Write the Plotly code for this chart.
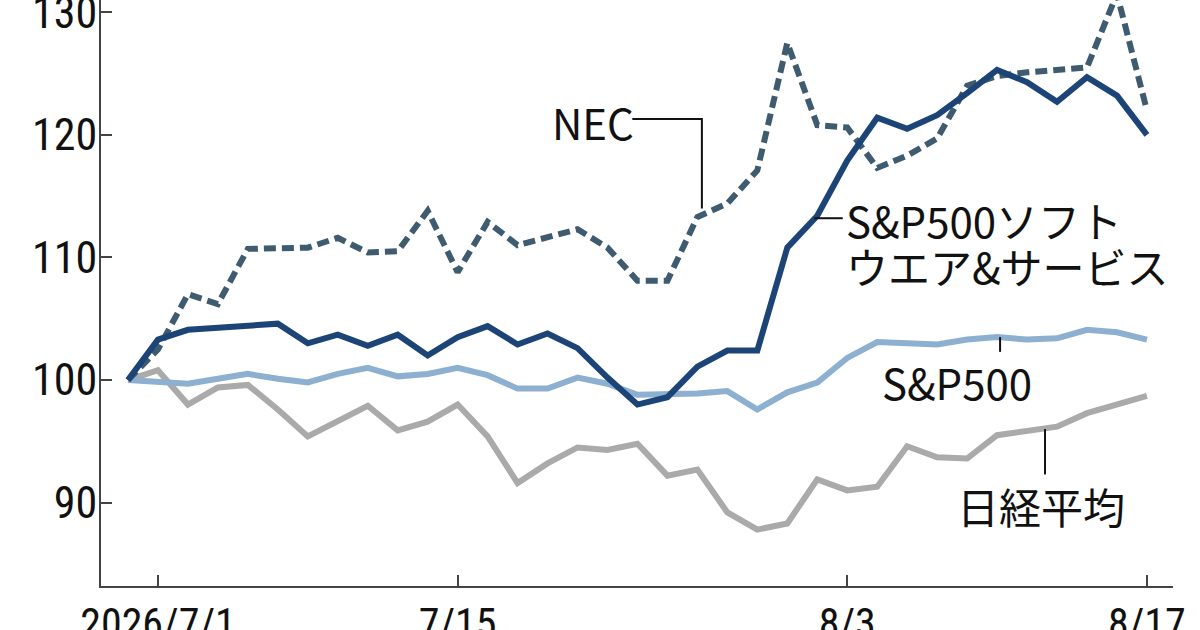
import plotly.graph_objects as go

# trading days (US/Japan union), 2026/6/30 - 8/17
dates = [
    "6/30", "7/1", "7/2", "7/3", "7/6", "7/7", "7/8", "7/9", "7/10", "7/13",
    "7/14", "7/15", "7/16", "7/17", "7/20", "7/21", "7/22", "7/23", "7/24",
    "7/27", "7/28", "7/29", "7/30", "7/31", "8/3", "8/4", "8/5", "8/6", "8/7",
    "8/10", "8/11", "8/12", "8/13", "8/14", "8/17",
]

# index, 6/30 = 100
nec = [
    100, 102.5, 107.0, 106.2, 110.7, 110.7, 110.8, 111.6, 110.4, 110.5,
    113.8, 108.8, 112.9, 111.0, 111.6, 112.3, 110.8, 108.1, 108.1,
    113.3, 114.4, 117.1, 127.5, 120.8, 120.6, 117.3, 118.3, 119.7, 124.0,
    124.8, 125.1, 125.3, 125.5, 131.5, 122.0,
]
software = [
    100, 103.3, 104.1, 104.3, 104.5, 104.6, 103.0, 103.7, 102.8, 103.7,
    102.0, 103.5, 104.4, 102.9, 103.8, 102.6, 100.2, 98.0, 98.6,
    101.1, 102.4, 102.4, 110.8, 113.4, 117.9, 121.4, 120.5, 121.6, 123.4,
    125.3, 124.3, 122.7, 124.7, 123.2, 120.0,
]
sp500 = [
    100, 99.9, 99.7, 100.1, 100.5, 100.1, 99.8, 100.5, 101.0, 100.3,
    100.5, 101.0, 100.4, 99.3, 99.3, 100.2, 99.7, 98.8, 98.8,
    98.9, 99.1, 97.6, 99.0, 99.8, 101.8, 103.1, 103.0, 102.9, 103.3,
    103.5, 103.3, 103.4, 104.1, 103.9, 103.3,
]
nikkei = [
    100, 100.8, 98.0, 99.4, 99.6, 97.6, 95.4, 96.7, 97.9, 95.9,
    96.6, 98.0, 95.4, 91.6, 93.2, 94.5, 94.3, 94.8, 92.2,
    92.7, 89.2, 87.8, 88.3, 91.9, 91.0, 91.3, 94.6, 93.7, 93.6,
    95.5, 95.9, 96.2, 97.3, 98.0, 98.7,
]

tick_dates = ["7/1", "7/15", "8/3", "8/17"]
tick_text = ["2026/7/1", "7/15", "8/3", "8/17"]

JP = "Noto Sans CJK JP"
NUM = "Roboto Condensed, Liberation Sans Narrow, DejaVu Sans Condensed, Roboto, sans-serif"
AXIS = "#444444"

fig = go.Figure()
fig.add_trace(go.Scatter(x=dates, y=nikkei, mode="lines",
                         line=dict(color="#aaaaaa", width=6)))
fig.add_trace(go.Scatter(x=dates, y=sp500, mode="lines",
                         line=dict(color="#8db0d0", width=6)))
fig.add_trace(go.Scatter(x=dates, y=nec, mode="lines",
                         line=dict(color="#3f5b70", width=6, dash="12px,6px")))
fig.add_trace(go.Scatter(x=dates, y=software, mode="lines",
                         line=dict(color="#1d4477", width=6)))

# labels with leader lines
labels = [
    dict(x=15.5, y=121.1, text="NEC", xanchor="center"),
    dict(x=23.9, y=113.1, text="S&P500ソフト", xanchor="left"),
    dict(x=23.9, y=109.35, text="ウエア&サービス", xanchor="left"),
    dict(x=25.1, y=99.9, text="S&P500", xanchor="left"),
    dict(x=27.6, y=89.75, text="日経平均", xanchor="left"),
]
annotations = [
    dict(xref="x", yref="y", x=a["x"], y=a["y"], text=a["text"],
         xanchor=a["xanchor"], yanchor="middle", showarrow=False,
         font=dict(family=JP, size=42, color="#111111"))
    for a in labels
]

leader = dict(color="#111111", width=2)
shapes = [
    dict(type="path", xref="x", yref="y",
         path="M 16.83,121.3 L 19.15,121.3 L 19.15,114.0", line=leader),
    dict(type="line", xref="x", yref="y", x0=22.9, x1=23.85, y0=113.2, y1=113.2, line=leader),
    dict(type="line", xref="x", yref="y", x0=29.1, x1=29.1, y0=103.5, y1=102.3, line=leader),
    dict(type="line", xref="x", yref="y", x0=30.6, x1=30.6, y0=96.0, y1=92.3, line=leader),
]

fig.update_layout(
    width=1200,
    height=630,
    margin=dict(l=101, r=27, t=0, b=44),
    paper_bgcolor="white",
    plot_bgcolor="white",
    showlegend=False,
    annotations=annotations,
    shapes=shapes,
    xaxis=dict(
        type="category",
        range=[-0.9, 34.87],
        tickvals=tick_dates,
        ticktext=tick_text,
        ticks="inside",
        ticklen=11,
        tickwidth=2,
        tickcolor=AXIS,
        showline=True,
        linecolor=AXIS,
        linewidth=2,
        showgrid=False,
        zeroline=False,
        automargin=False,
        ticklabeloverflow="allow",
        ticklabelstandoff=0,
        tickfont=dict(family=NUM, size=42, color="#111111"),
    ),
    yaxis=dict(
        range=[83.2, 131.0],
        tickvals=[90, 100, 110, 120, 130],
        ticks="inside",
        ticklen=11,
        tickwidth=2,
        tickcolor=AXIS,
        showline=True,
        linecolor=AXIS,
        linewidth=2,
        showgrid=False,
        zeroline=False,
        automargin=False,
        ticklabeloverflow="allow",
        ticklabelstandoff=-7,
        tickfont=dict(family=NUM, size=44, color="#111111"),
    ),
)

# drop the default page margin so the figure sits at the window's corner
fig.write_html(
    "out.html",
    config={"displayModeBar": False},
    post_script="document.body.style.margin='0';",
)
